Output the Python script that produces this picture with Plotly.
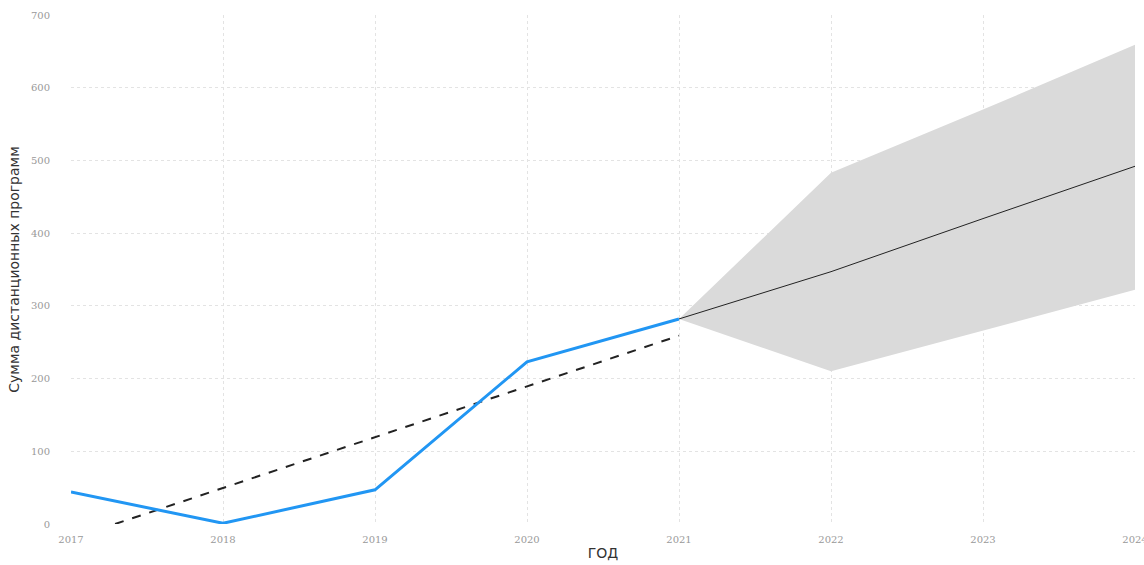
import plotly.graph_objects as go

# Observed totals by year
years = [2017, 2018, 2019, 2020, 2021]
totals = [44, 1, 47, 223, 282]

# Linear trend over the observed years (clipped at zero)
trend_x = [2017.29, 2021]
trend_y = [0, 259]

# Forecast with confidence band
fc_years = [2021, 2022, 2023, 2024]
fc_mean = [282, 347, 420, 492]
fc_upper = [282, 483, 570, 659]
fc_lower = [282, 210, 266, 322]

y_ticks = [0, 100, 200, 300, 400, 500, 600, 700]
x_ticks = [2017, 2018, 2019, 2020, 2021, 2022, 2023, 2024]

fig = go.Figure()

# Confidence band polygon
fig.add_trace(go.Scatter(
    x=fc_years + fc_years[::-1],
    y=fc_upper + fc_lower[::-1],
    fill="toself", fillcolor="rgb(218,218,218)",
    line=dict(width=0), mode="lines", hoverinfo="skip", showlegend=False,
))

fig.add_trace(go.Scatter(
    x=fc_years, y=fc_mean, mode="lines",
    line=dict(color="#222222", width=1), showlegend=False,
))

fig.add_trace(go.Scatter(
    x=trend_x, y=trend_y, mode="lines",
    line=dict(color="#222222", width=2, dash="dash"), showlegend=False,
))

fig.add_trace(go.Scatter(
    x=years, y=totals, mode="lines",
    line=dict(color="#2196f3", width=3), showlegend=False,
))

fig.update_layout(
    width=1144, height=565,
    margin=dict(l=71, r=9, t=15, b=41),
    plot_bgcolor="white", paper_bgcolor="white",
    font=dict(family="DejaVu Sans", color="#444"),
)

fig.update_xaxes(
    range=[2017, 2024], tickvals=x_ticks, ticktext=[str(v) for v in x_ticks],
    showgrid=True, gridcolor="#e3e3e3", griddash="dot", gridwidth=1,
    zeroline=False, showline=False, ticks="", ticklabelstandoff=8,
    ticklabeloverflow="allow", automargin=False,
    tickfont=dict(size=10, color="#999999", family="DejaVu Serif"),
    title=dict(text="ГОД", font=dict(size=14, color="#333333"), standoff=4),
)
fig.update_yaxes(
    range=[0, 700], tickvals=y_ticks, automargin=False,
    showgrid=True, gridcolor="#e3e3e3", griddash="dot", gridwidth=1,
    zeroline=False, showline=False, ticks="", ticklabelstandoff=20,
    tickfont=dict(size=10, color="#999999", family="DejaVu Serif"),
    title=dict(text="Сумма дистанционных программ", font=dict(size=14, color="#333333"), standoff=8),
)

fig.write_html("out.html")
